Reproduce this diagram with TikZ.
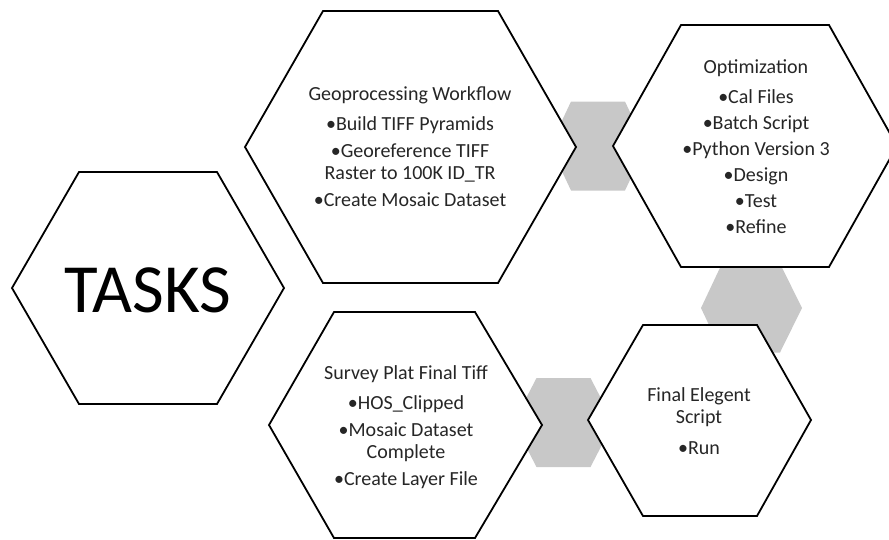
\documentclass[tikz,border=0pt]{standalone}
\usepackage{fontspec}
\setmainfont{Carlito}
\usepackage{tikz}
\usepackage{xcolor}

\definecolor{hexgray}{RGB}{200,200,200}
\tikzset{
  hexbox/.style={draw=black, line width=1.8pt, fill=white, line join=miter},
  linkhex/.style={fill=hexgray, draw=none},
  hextext/.style={align=center, text=black!85, font=\fontsize{20}{22}\selectfont},
}

\begin{document}
\begin{tikzpicture}[x=1pt, y=-1pt]
  \useasboundingbox (0,0) rectangle (889,539);
  \clip (0,0) rectangle (889,539);
  % grey joints
  \fill[linkhex] (550,146) -- (571,101.5) -- (625,101.5) -- (646,146) -- (625,190.5) -- (571,190.5) -- cycle;
  \fill[linkhex] (701,308) -- (722,263.5) -- (780,263.5) -- (802,308) -- (780,352.5) -- (722,352.5) -- cycle;
  \fill[linkhex] (513.5,422.5) -- (536.5,378) -- (590.5,378) -- (613.5,422.5) -- (590.5,467) -- (536.5,467) -- cycle;
  % main cells
  \draw[hexbox] (12,288) -- (79,172) -- (217,172) -- (284,288) -- (217,404) -- (79,404) -- cycle;
  \node[text=black, font=\fontsize{69}{72}\selectfont] (tasks) at (148,290) {TASKS};
  \draw[hexbox] (245,147) -- (323,11) -- (498,11) -- (576,147) -- (498,283) -- (323,283) -- cycle;
  \node[hextext] (geo) at (410,147) {Geoprocessing Workflow\\[8pt]
    •Build TIFF Pyramids\\[5pt] •Georeference TIFF\\Raster to 100K ID\_TR\\[5pt] •Create Mosaic Dataset};
  \draw[hexbox] (613,146) -- (681,25) -- (829,25) -- (897,146) -- (829,267) -- (681,267) -- cycle;
  \node[hextext] (opt) at (756,147) {Optimization\\[8pt] •Cal Files\\[4pt] •Batch Script\\[4pt]
    •Python Version 3\\[4pt] •Design\\[4pt] •Test\\[4pt] •Refine};
  \draw[hexbox] (269,425) -- (334,312) -- (475,312) -- (542,425) -- (475,538) -- (334,538) -- cycle;
  \node[hextext] (survey) at (406,427) {Survey Plat Final Tiff\\[8pt] •HOS\_Clipped\\[5pt]
    •Mosaic Dataset\\Complete\\[5pt] •Create Layer File};
  \draw[hexbox] (588,420) -- (643,325) -- (757,325) -- (811,420) -- (757,516) -- (643,516) -- cycle;
  \node[hextext] (final) at (699,421) {Final Elegent\\Script\\[9pt] •Run};
\end{tikzpicture}
\end{document}
